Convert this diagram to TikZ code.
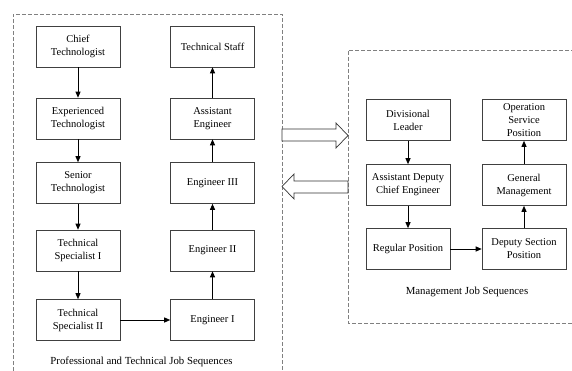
\documentclass[tikz,border=0pt]{standalone}
\usepackage{fontspec}
\setmainfont{Liberation Serif}
\usetikzlibrary{arrows.meta}

\tikzset{
  jobbox/.style={draw=black!75, line width=.6pt, minimum width=84pt, minimum height=41pt,
    align=center, inner sep=2pt, font=\fontsize{10.5}{13}\selectfont},
  uparrow/.style={line width=.9pt, -{Triangle[length=6pt,width=5pt]}},
  region/.style={dashed, gray, line width=.6pt, dash pattern=on 4pt off 2pt},
  bigarrow/.style={draw=black!80, line width=.7pt, fill=white},
  caption/.style={font=\fontsize{10.8}{13}\selectfont}
}

\begin{document}
\begin{tikzpicture}[x=1pt, y=-1pt]
        \useasboundingbox (0,0) rectangle (572,371);
        % the two dashed regions
        \draw[region] (13,371) -- (13,14) -- (282,14) -- (282,371);
        \draw[region] (575,50) -- (348,50) -- (348,323) -- (575,323);
        % professional and technical sequence
        \node[jobbox] (chief) at (78,46.5) {Chief\\Technologist};
        \node[jobbox] (exper) at (78,118.5) {Experienced\\Technologist};
        \node[jobbox] (senior) at (78,183) {Senior\\Technologist};
        \node[jobbox] (specone) at (78,250.5) {Technical\\Specialist I};
        \node[jobbox] (spectwo) at (78,320) {Technical\\Specialist II};
        \node[jobbox] (engone) at (212.5,320) {Engineer I};
        \node[jobbox] (engtwo) at (212.5,250.5) {Engineer II};
        \node[jobbox] (engthree) at (212.5,183) {Engineer III};
        \node[jobbox] (asseng) at (212.5,118.5) {Assistant\\Engineer};
        \node[jobbox] (staff) at (212.5,46.5) {Technical Staff};
        \draw[uparrow] (chief) -- (exper);
        \draw[uparrow] (exper) -- (senior);
        \draw[uparrow] (senior) -- (specone);
        \draw[uparrow] (specone) -- (spectwo);
        \draw[uparrow] (spectwo) -- (engone);
        \draw[uparrow] (engone) -- (engtwo);
        \draw[uparrow] (engtwo) -- (engthree);
        \draw[uparrow] (engthree) -- (asseng);
        \draw[uparrow] (asseng) -- (staff);
        \node[caption] (proflabel) at (141.5,362) {Professional and Technical Job Sequences};
        % management sequence
        \node[jobbox] (divlead) at (408,120) {Divisional\\Leader};
        \node[jobbox] (adce) at (408,185) {Assistant Deputy\\Chief Engineer};
        \node[jobbox] (regular) at (408,249) {Regular Position};
        \node[jobbox] (deputy) at (524,249) {Deputy Section\\Position};
        \node[jobbox] (genman) at (524,185) {General\\Management};
        \node[jobbox] (opserv) at (524,120) {Operation\\Service\\Position};
        \draw[uparrow] (divlead) -- (adce);
        \draw[uparrow] (adce) -- (regular);
        \draw[uparrow] (regular) -- (deputy);
        \draw[uparrow] (deputy) -- (genman);
        \draw[uparrow] (genman) -- (opserv);
        \node[caption] (mgmtlabel) at (467,292) {Management Job Sequences};
        % transfer arrows between the regions
        \draw[bigarrow] (282,129) -- (336,129) -- (336,123) -- (348,135.5) -- (336,148) -- (336,141) -- (282,141) -- cycle;
        \draw[bigarrow] (348,181) -- (294,181) -- (294,174) -- (282,186.5) -- (294,199) -- (294,193) -- (348,193) -- cycle;
\end{tikzpicture}
\end{document}
